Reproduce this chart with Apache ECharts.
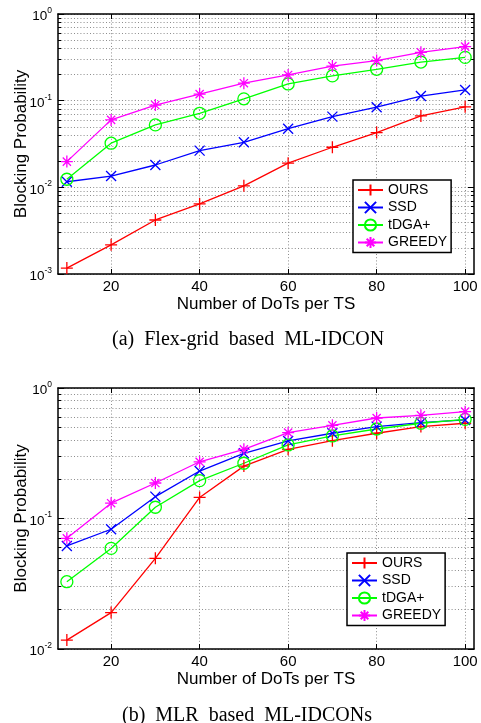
<!DOCTYPE html>
<html><head><meta charset="utf-8">
<script src="https://cdn.jsdelivr.net/npm/echarts@6/dist/echarts.min.js"></script>
<style>html,body{margin:0;padding:0;background:#fff}#c{width:481px;height:723px}</style>
</head><body><div id="c"></div>
<script>
// ---- data ----
const dots = [10, 20, 30, 40, 50, 60, 70, 80, 90, 100];
const seriesNames = ['OURS', 'SSD', 'tDGA+', 'GREEDY'];
// (a) Flex-grid based ML-IDCON
const oursA   = [0.00117, 0.00217, 0.0042, 0.00644, 0.0104, 0.019, 0.029, 0.0428, 0.0666, 0.085];
const ssdA    = [0.0116, 0.0135, 0.0181, 0.0265, 0.0331, 0.0475, 0.0654, 0.084, 0.113, 0.133];
const tdgaA   = [0.0124, 0.0323, 0.0525, 0.0715, 0.105, 0.156, 0.193, 0.23, 0.279, 0.316];
const greedyA = [0.0198, 0.060, 0.089, 0.119, 0.159, 0.198, 0.251, 0.29, 0.361, 0.42];
// (b) MLR based ML-IDCONs
const oursB   = [0.0117, 0.019, 0.0495, 0.145, 0.252, 0.339, 0.395, 0.45, 0.506, 0.537];
const ssdB    = [0.0616, 0.0827, 0.147, 0.231, 0.316, 0.393, 0.45, 0.506, 0.542, 0.569];
const tdgaB   = [0.0328, 0.059, 0.122, 0.195, 0.265, 0.366, 0.429, 0.485, 0.537, 0.575];
const greedyB = [0.0705, 0.131, 0.187, 0.272, 0.339, 0.455, 0.518, 0.589, 0.618, 0.659];
// ticks
const xTicks = [20, 40, 60, 80, 100];
const yTicksA = [0.001, 0.01, 0.1, 1];
const yTicksB = [0.01, 0.1, 1];
const captionA = '(a)  Flex-grid  based  ML-IDCON';
const captionB = '(b)  MLR  based  ML-IDCONs';
const xName = 'Number of DoTs per TS';
const yName = 'Blocking Probability';

// ---- styling ----
const F = 'Liberation Sans, Arial, Helvetica, sans-serif';
const colors = ['#ff0000', '#0000ff', '#00ff00', '#ff00ff'];
const symbols = [
  'path://M0,5L10,5M5,0L5,10',
  'path://M0,0L10,10M10,0L0,10',
  'path://M10,5A5,5,0,1,1,0,5A5,5,0,1,1,10,5Z',
  'path://M0,5L10,5M5,0L5,10M1.6,1.6L8.4,8.4M8.4,1.6L1.6,8.4'
];
const sizes = [12, 10, 12, 12];

function minorVals(decades) {
  const out = [];
  for (let i = 0; i < decades.length - 1; i++) {
    for (let k = 1; k <= 9; k++) out.push(+(k * decades[i]).toPrecision(6));
  }
  out.push(decades[decades.length - 1]);
  return out;
}

const grids = [
  {left: 58, top: 14, width: 416, height: 260, outerBoundsMode: 'none', containLabel: false},
  {left: 58, top: 388, width: 416, height: 261, outerBoundsMode: 'none', containLabel: false}
];

const splitStyle = {show: true, lineStyle: {color: '#8c8c8c', type: [1, 2.2], width: 1}};
const blackLine = {show: true, lineStyle: {color: '#000', width: 1.5}};

const xAxis = [], yAxis = [];
[0, 1].forEach(g => {
  xAxis.push({
    type: 'value', gridIndex: g, min: 8, max: 102, position: 'bottom',
    axisLine: blackLine,
    axisTick: {show: true, inside: true, length: 5, customValues: xTicks, lineStyle: {color: '#000', width: 1}},
    axisLabel: {show: true, customValues: xTicks, margin: 5, fontSize: 15, fontFamily: F, color: '#000'},
    splitLine: splitStyle,
    name: xName, nameLocation: 'middle', nameGap: 22,
    nameTextStyle: {fontSize: 17, fontFamily: F, color: '#000'}
  });
  xAxis.push({
    type: 'value', gridIndex: g, min: 8, max: 102, position: 'top',
    axisLine: blackLine,
    axisTick: {show: true, inside: true, length: 5, customValues: xTicks, lineStyle: {color: '#000', width: 1}},
    axisLabel: {show: false}, splitLine: {show: false}
  });
  const dec = g === 0 ? yTicksA : yTicksB;
  const mn = dec[0], mx = dec[dec.length - 1];
  const minor = minorVals(dec);
  const base = {type: 'log', logBase: 10, gridIndex: g, min: mn, max: mx};
  yAxis.push(Object.assign({}, base, {
    position: 'left',
    axisLine: blackLine,
    axisTick: {show: true, inside: true, length: 3, customValues: minor, lineStyle: {color: '#000', width: 1}},
    axisLabel: {
      show: true, customValues: dec, margin: 6, padding: [5, 0, 0, 0],
      formatter: v => {
        const e = Math.round(Math.log10(v));
        return '{b|10}{e|' + e + '}';
      },
      rich: {
        b: {fontSize: 13.5, lineHeight: 21, fontFamily: F, color: '#000'},
        e: {fontSize: 8.5, lineHeight: 9, verticalAlign: 'top', fontFamily: F, color: '#000'}
      }
    },
    splitLine: Object.assign({}, splitStyle),
    name: yName, nameLocation: 'middle', nameGap: 28, nameMoveOverlap: false,
    nameTextStyle: {fontSize: 17, fontFamily: F, color: '#000'}
  }));
  yAxis.push(Object.assign({}, base, {
    position: 'left', axisLine: {show: false},
    axisTick: {show: true, inside: true, length: 6, customValues: dec, lineStyle: {color: '#000', width: 1}},
    axisLabel: {show: false}, splitLine: {show: false}
  }));
  yAxis.push(Object.assign({}, base, {
    position: 'right', axisLine: blackLine,
    axisTick: {show: true, inside: true, length: 3, customValues: minor, lineStyle: {color: '#000', width: 1}},
    axisLabel: {show: false}, splitLine: {show: false}
  }));
  yAxis.push(Object.assign({}, base, {
    position: 'right', axisLine: {show: false},
    axisTick: {show: true, inside: true, length: 6, customValues: dec, lineStyle: {color: '#000', width: 1}},
    axisLabel: {show: false}, splitLine: {show: false}
  }));
});

function mk(name, vals, g, idx) {
  return {
    type: 'line', name: name, xAxisIndex: g * 2, yAxisIndex: g * 4,
    data: dots.map((x, i) => [x, vals[i]]),
    symbol: symbols[idx], symbolSize: sizes[idx], showSymbol: true,
    lineStyle: {color: colors[idx], width: 1.3},
    itemStyle: {color: 'rgba(0,0,0,0)', borderColor: colors[idx], borderWidth: 1.3},
    emphasis: {disabled: true}, silent: true, clip: false
  };
}

const series = [
  mk('OURS', oursA, 0, 0), mk('SSD', ssdA, 0, 1), mk('tDGA+', tdgaA, 0, 2), mk('GREEDY', greedyA, 0, 3),
  mk('OURS', oursB, 1, 0), mk('SSD', ssdB, 1, 1), mk('tDGA+', tdgaB, 1, 2), mk('GREEDY', greedyB, 1, 3)
];

const legendBase = {
  data: seriesNames, orient: 'vertical', itemWidth: 25, itemHeight: 14, itemGap: 3.5,
  padding: [3, 4, 3, 4], borderColor: '#000', borderWidth: 1.5, backgroundColor: '#fff',
  textStyle: {fontFamily: F, fontSize: 14, color: '#000'}, selectedMode: false
};

const chart = echarts.init(document.getElementById('c'), null, {renderer: 'canvas'});
chart.setOption({
  animation: false,
  backgroundColor: '#fff',
  grid: grids,
  xAxis: xAxis,
  yAxis: yAxis,
  series: series,
  legend: [
    Object.assign({}, legendBase, {left: 353, top: 180}),
    Object.assign({}, legendBase, {left: 347, top: 553})
  ],
  title: [
    {text: captionA, left: 112, top: 330, padding: 0,
     textStyle: {fontFamily: 'Liberation Serif, Times New Roman, serif', fontSize: 20, fontWeight: 'normal', color: '#000'}},
    {text: captionB, left: 122, top: 706, padding: 0,
     textStyle: {fontFamily: 'Liberation Serif, Times New Roman, serif', fontSize: 20, fontWeight: 'normal', color: '#000'}}
  ]
});
</script></body></html>
